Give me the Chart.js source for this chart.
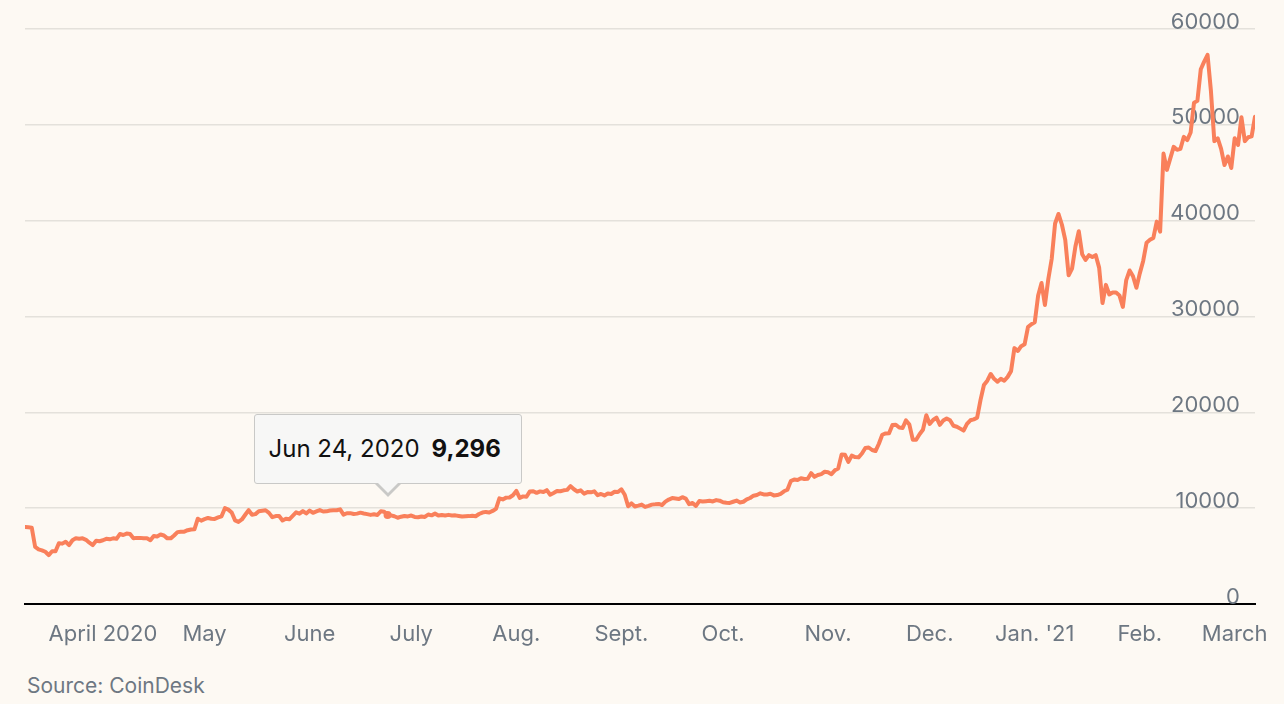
<!DOCTYPE html>
<html>
<head>
<meta charset="utf-8">
<script src="https://cdn.jsdelivr.net/npm/chart.js@4.4.1/dist/chart.umd.min.js"></script>
<style>
  html, body { margin: 0; padding: 0; background: #fdf9f3; }
  #wrap { position: relative; width: 1284px; height: 704px; overflow: hidden; }
  #c { position: absolute; left: 0; top: 0; }
  #source { position: absolute; left: 27px; top: 673px; font: 21px Inter, "Noto Sans", sans-serif; color: #6d7782; }
  #tip { position: absolute; display: none; box-sizing: border-box; width: 268px; height: 70px;
         background: #f7f7f6; border: 1.5px solid #c9c9c7; border-radius: 3px;
         font: 24px Inter, "Noto Sans", sans-serif; color: #111; 
         padding-left: 14px; line-height: 67px; white-space: nowrap; }
  #tip b { font-weight: 700; margin-left: 12px; }
  #tip::before { content: ""; position: absolute; left: 50%; top: 100%; margin-left: -14px;
         border-left: 14px solid transparent; border-right: 14px solid transparent; border-top: 14px solid #c9c9c7; }
  #tip::after { content: ""; position: absolute; left: 50%; top: calc(100% - 2px); margin-left: -12px;
         border-left: 12px solid transparent; border-right: 12px solid transparent; border-top: 12px solid #f7f7f6; }
</style>
</head>
<body>
<div id="wrap">
  <canvas id="c" width="1284" height="660"></canvas>
  <div id="source">Source: CoinDesk</div>
  <div id="tip"><span id="tipDate"></span><b id="tipVal"></b></div>
</div>
<script>
// ---- Data: daily Bitcoin closing prices (USD), starting Mar 9, 2020 ----
const startDate = '2020-03-09';
const mar2020 = [8040, 8000, 7950, 5950, 5700, 5600, 5450, 5100, 5500, 5500, 6350, 6300, 6500, 6150, 6650, 6850, 6800, 6850, 6700, 6400, 6150, 6600, 6550];
const apr2020 = [6650, 6800, 6750, 6850, 6800, 7300, 7200, 7350, 7300, 6850, 6900, 6900, 6850, 6850, 6650, 7100, 7050, 7250, 7150, 6850, 6850, 7150, 7500, 7550, 7550, 7700, 7780, 7790, 8900, 8700];
const may2020 = [8850, 8980, 8900, 8880, 9030, 9150, 10000, 9850, 9550, 8730, 8570, 8820, 9310, 9790, 9320, 9380, 9680, 9730, 9780, 9510, 9060, 9170, 9180, 8720, 8900, 8840, 9200, 9570, 9430, 9700, 9450];
const jun2020 = [9750, 9520, 9660, 9800, 9650, 9670, 9750, 9780, 9780, 9880, 9320, 9470, 9480, 9390, 9430, 9530, 9450, 9380, 9300, 9360, 9290, 9680, 9620, 9296, 9250, 9160, 9000, 9110, 9190, 9140];
const jul2020 = [9230, 9090, 9060, 9130, 9080, 9340, 9250, 9430, 9240, 9290, 9230, 9300, 9240, 9250, 9190, 9130, 9150, 9170, 9210, 9160, 9390, 9540, 9610, 9550, 9710, 9930, 11030, 10910, 11100, 11110, 11350];
const aug2020 = [11800, 11070, 11230, 11190, 11750, 11770, 11600, 11750, 11680, 11880, 11400, 11580, 11780, 11770, 11860, 11910, 12300, 11970, 11740, 11860, 11520, 11680, 11650, 11760, 11350, 11480, 11330, 11530, 11480, 11710, 11680];
const sep2020 = [11970, 11400, 10200, 10500, 10170, 10260, 10370, 10130, 10240, 10370, 10400, 10440, 10330, 10680, 10900, 11050, 11000, 10950, 11150, 11000, 10420, 10540, 10240, 10740, 10690, 10730, 10770, 10700, 10840, 10780];
const oct2020 = [10620, 10570, 10550, 10670, 10790, 10600, 10670, 10920, 11060, 11300, 11380, 11550, 11430, 11430, 11500, 11330, 11370, 11500, 11760, 11920, 12820, 12990, 12940, 13130, 13040, 13070, 13650, 13270, 13460, 13560, 13800];
const nov2020 = [13740, 13550, 13950, 14150, 15590, 15570, 14830, 15480, 15330, 15300, 15700, 16280, 16330, 16070, 15960, 16720, 17660, 17800, 17820, 18680, 18700, 18420, 18370, 19160, 18720, 17150, 17140, 17720, 18180, 19700];
const dec2020 = [18790, 19200, 19440, 18700, 19150, 19360, 19170, 18600, 18500, 18300, 18100, 18800, 19170, 19270, 19440, 21300, 22850, 23300, 24000, 23500, 23200, 23500, 23300, 23700, 24300, 26700, 26400, 26900, 27100, 28900, 29200];
const jan2021 = [29400, 32200, 33500, 31200, 33900, 36000, 39700, 40700, 39600, 38000, 34300, 35000, 37300, 38900, 36500, 35900, 36400, 36200, 36400, 35100, 31400, 33300, 32300, 32500, 32500, 32200, 31000, 33800, 34800, 34200, 33000];
const feb2021 = [34500, 35800, 37700, 38000, 38200, 39900, 38850, 47000, 45300, 46500, 47700, 47400, 47500, 48750, 48400, 49200, 52300, 52500, 55800, 56600, 57300, 53500, 48300, 48600, 47500, 45800, 46700, 45500];
const mar2021 = [48600, 47900, 50800, 48300, 48700, 48800, 50850];

// ---- Axis ticks ----
const monthTickDates = ['2020-04-01','2020-05-01','2020-06-01','2020-07-01','2020-08-01','2020-09-01','2020-10-01','2020-11-01','2020-12-01','2021-01-01','2021-02-01','2021-03-01'];
const monthTickLabels = ['April 2020','May','June','July','Aug.','Sept.','Oct.','Nov.','Dec.',"Jan. '21",'Feb.','March'];
const yTicks = [0, 10000, 20000, 30000, 40000, 50000, 60000];
const highlightDate = '2020-06-24';

// ---- Build ----
const prices = [].concat(mar2020, apr2020, may2020, jun2020, jul2020, aug2020, sep2020, oct2020, nov2020, dec2020, jan2021, feb2021, mar2021);
const DAY = 86400000;
const t0 = Date.parse(startDate + 'T00:00:00Z');
const dayIndex = s => Math.round((Date.parse(s + 'T00:00:00Z') - t0) / DAY);
const points = prices.map((v, i) => ({ x: i, y: v }));
const tickDays = monthTickDates.map(dayIndex);

const FONT = 'Inter, "Noto Sans", sans-serif';
const GRAY = '#6d7782';
const LINE = '#f9805b';

function externalTooltip(context) {
  const tt = context.tooltip;
  const el = document.getElementById('tip');
  if (!tt || tt.opacity === 0 || !tt.dataPoints || !tt.dataPoints.length) { el.style.display = 'none'; return; }
  const dp = tt.dataPoints[0];
  const d = new Date(t0 + dp.parsed.x * DAY);
  document.getElementById('tipDate').textContent = d.toLocaleDateString('en-US', { month: 'short', day: 'numeric', year: 'numeric', timeZone: 'UTC' });
  document.getElementById('tipVal').textContent = dp.parsed.y.toLocaleString('en-US');
  el.style.display = 'block';
  el.style.left = (tt.caretX - 134) + 'px';
  el.style.top = (tt.caretY - 101) + 'px';
}

const chart = new Chart(document.getElementById('c'), {
  type: 'line',
  data: {
    datasets: [{
      data: points,
      borderColor: LINE,
      borderWidth: 4,
      pointRadius: 0,
      pointHoverRadius: 4,
      pointHoverBorderWidth: 0,
      pointHoverBackgroundColor: LINE,
      tension: 0,
      fill: false,
      borderJoinStyle: 'round',
      borderCapStyle: 'round'
    }]
  },
  options: {
    responsive: false,
    animation: false,
    events: [],
    layout: { padding: { left: 25, right: 29, top: 29, bottom: 0 } },
    plugins: {
      legend: { display: false },
      tooltip: { enabled: false, external: externalTooltip, mode: 'index', intersect: false }
    },
    scales: {
      x: {
        type: 'linear',
        min: 0,
        max: prices.length - 1,
        afterBuildTicks: s => { s.ticks = tickDays.map(v => ({ value: v })); },
        afterFit: s => { s.height = 56; s.paddingLeft = 0; s.paddingRight = 0; },
        grid: { display: false, drawTicks: false },
        border: { display: true, color: '#000', width: 2 },
        ticks: {
          autoSkip: false, maxRotation: 0, padding: 17,
          color: GRAY, font: { family: FONT, size: 22 },
          callback: v => { const k = tickDays.indexOf(v); return k >= 0 ? monthTickLabels[k] : ''; }
        }
      },
      y: {
        position: 'right',
        min: 0,
        max: 60000,
        afterBuildTicks: s => { s.ticks = yTicks.map(v => ({ value: v })); },
        afterFit: s => { s.width = 0; s.paddingTop = 0; s.paddingBottom = 0; },
        grid: { color: '#e4e1db', lineWidth: 1.5, drawTicks: false },
        border: { display: false },
        ticks: {
          mirror: true, padding: -15, labelOffset: -7,
          color: GRAY, font: { family: FONT, size: 22 },
          callback: v => String(v)
        }
      }
    }
  }
});

const hi = dayIndex(highlightDate);
chart.setActiveElements([{ datasetIndex: 0, index: hi }]);
chart.tooltip.setActiveElements([{ datasetIndex: 0, index: hi }], { x: 0, y: 0 });
chart.update();
</script>
</body>
</html>
